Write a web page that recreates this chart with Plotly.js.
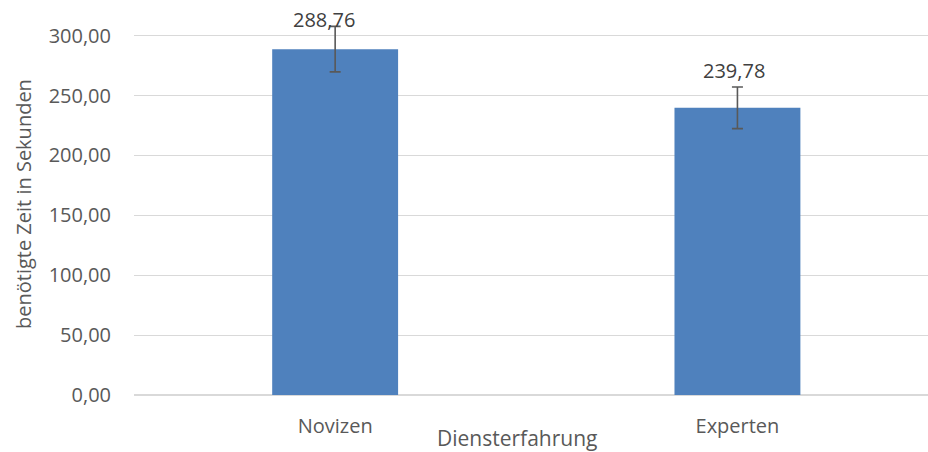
<!DOCTYPE html>
<html>
<head>
<meta charset="utf-8">
<script src="https://cdn.plot.ly/plotly-3.0.1.min.js"></script>
<style>html,body{margin:0;padding:0;background:#fff;overflow:hidden;}#chart{width:928px;height:452px;}</style>
</head>
<body>
<div id="chart"></div>
<script>
// Data
const categories = ["Novizen", "Experten"];
const meanTimes = [288.76, 239.78];
const errors = [19.0, 17.4];
const xAxisTitle = "Diensterfahrung";
const yAxisTitle = "benötigte Zeit in Sekunden";
const yTickValues = [0, 50, 100, 150, 200, 250, 300];

const fmt = v => v.toFixed(2).replace('.', ',');
const FONT = '"Open Sans", "Noto Sans", sans-serif';
const TXT = '#595959';

// plot area: zero line at y=395px, 300 at ~35.7px -> 1.1977 px per unit
const PLOT_TOP = 18, PLOT_BOTTOM = 395;
const yMax = (PLOT_BOTTOM - PLOT_TOP) / ((395 - 35.7) / 300);

const trace = {
  type: 'bar',
  x: categories,
  y: meanTimes,
  width: 0.313,
  cliponaxis: false,
  marker: {color: '#4f81bd', line: {width: 0}},
  error_y: {type: 'data', array: errors, visible: true, color: '#595959', thickness: 1.6, width: 5.5},
  hoverinfo: 'none'
};

const labelShift = [[-11, 30], [-3, 37.5]];
const annotations = categories.map((c, i) => ({
  x: c, y: meanTimes[i], xref: 'x', yref: 'y',
  text: fmt(meanTimes[i]), showarrow: false,
  xanchor: 'center', yanchor: 'middle',
  xshift: labelShift[i][0], yshift: labelShift[i][1],
  font: {family: FONT, size: 20, color: '#404040'}
}));
annotations.push({
  xref: 'paper', yref: 'paper', x: (517 - 134) / 794, y: 0,
  xanchor: 'center', yanchor: 'middle', yshift: -43,
  text: xAxisTitle, showarrow: false,
  font: {family: FONT, size: 21, color: TXT}
});
annotations.push({
  xref: 'paper', yref: 'y', x: 0, y: (395 - 204) / ((395 - 35.7) / 300),
  xanchor: 'center', yanchor: 'middle', xshift: -111, textangle: -90,
  text: yAxisTitle, showarrow: false,
  font: {family: FONT, size: 20, color: TXT}
});

const layout = {
  width: 928, height: 452,
  margin: {l: 134, r: 0, t: PLOT_TOP, b: 452 - PLOT_BOTTOM, pad: 0},
  paper_bgcolor: '#ffffff', plot_bgcolor: '#ffffff',
  separators: ',.',
  showlegend: false,
  font: {family: FONT, size: 20, color: TXT},
  xaxis: {
    type: 'category', range: [-0.5, 1.4737],
    showgrid: false, zeroline: false, showline: false,
    ticks: '', ticklabelstandoff: 17,
    tickfont: {family: FONT, size: 20, color: TXT},
    fixedrange: true
  },
  yaxis: {
    range: [0, yMax], tickvals: yTickValues, tickformat: '.2f',
    showgrid: true, gridcolor: '#d9d9d9', gridwidth: 1.2,
    zeroline: true, zerolinecolor: '#d9d9d9', zerolinewidth: 1.2,
    showline: false, ticks: '', ticklabelstandoff: 22,
    tickfont: {family: FONT, size: 20, color: TXT},
    automargin: false, fixedrange: true
  },
  annotations: annotations
};

Plotly.newPlot('chart', [trace], layout, {staticPlot: true, displayModeBar: false});
</script>
</body>
</html>
